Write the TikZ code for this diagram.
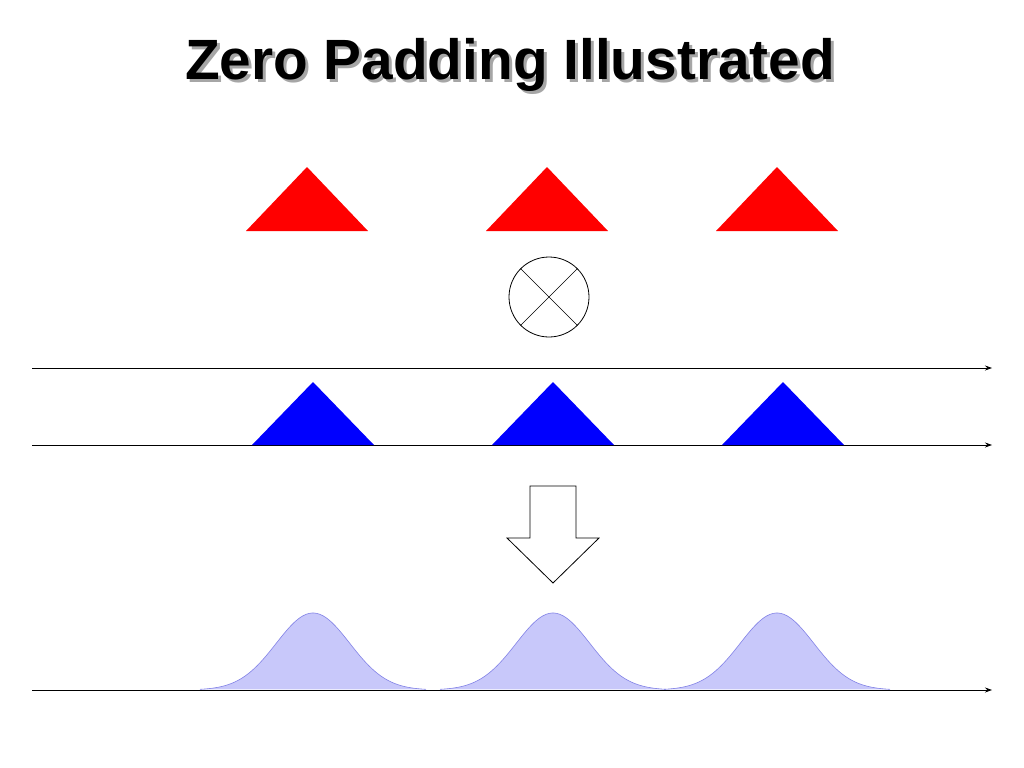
\documentclass[tikz,border=0pt]{standalone}
\usepackage{fontspec}
\setmainfont{Liberation Sans}
\usetikzlibrary{arrows.meta}
\definecolor{lav}{RGB}{200,200,250}
\definecolor{lavline}{RGB}{130,130,230}
\newcommand{\shadowtext}[1]{\rlap{\hspace{3bp}\raisebox{-3bp}{\color{gray!70}#1}}#1}
\begin{document}
\begin{tikzpicture}[x=1bp,y=-1bp,>={Stealth[length=7bp,width=5bp]},
  axis/.style={->,line width=0.8bp},
  bump/.style={fill=lav,draw=lavline,line width=0.6bp}]
\useasboundingbox (0,0) rectangle (1024,768);
% title
\node (title) at (510,66) {\fontsize{57}{64}\selectfont\bfseries\shadowtext{Zero Padding Illustrated}};
% window triangles
\foreach \x in {307,547,777}
  \fill[red] (\x-61,231) -- (\x,167) -- (\x+61,231) -- cycle;
% multiply sign
\node (mult) at (549,297) [shape=circle,draw,minimum size=80bp,line width=0.8bp] {};
\draw (mult.45) -- (mult.225);
\draw (mult.135) -- (mult.315);
% axes
\coordinate (a1) at (32,368); \coordinate (b1) at (992,368);
\coordinate (a2) at (32,445); \coordinate (b2) at (992,445);
\coordinate (a3) at (32,690); \coordinate (b3) at (992,690);
\draw[axis] (a1) -- (b1);
\draw[axis] (a2) -- (b2);
% padded signal
\foreach \x in {313,553,783}
  \fill[blue] (\x-61,445) -- (\x,382) -- (\x+61,445) -- cycle;
% block arrow
\draw[line width=0.8bp] (530,486) -- (576,486) -- (576,538) -- (599,538) -- (553,583)
  -- (507,538) -- (530,538) -- cycle;
% spectra
\foreach \c in {313,553,777}
  \draw[bump] plot[domain=-113:113,samples=80] ({\c+\x},{690-77*exp(-(\x/52)^2)});
\draw[axis] (a3) -- (b3);
\end{tikzpicture}
\end{document}
